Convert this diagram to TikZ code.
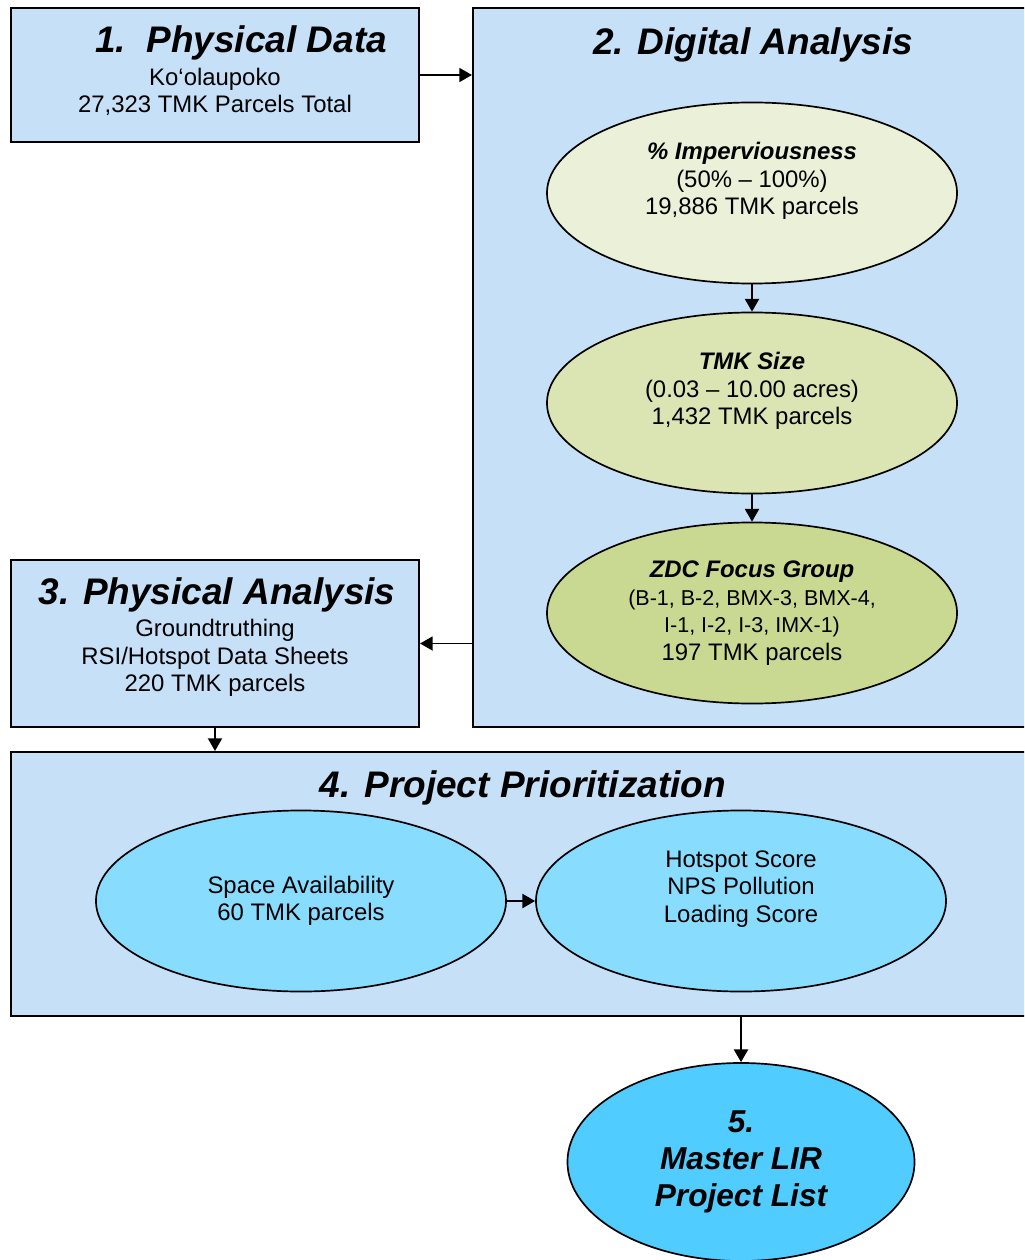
\documentclass[tikz,border=0pt]{standalone}
\usepackage{fontspec}
\setmainfont{Liberation Sans}
\usetikzlibrary{shapes.geometric,arrows.meta}

\definecolor{paneblue}{HTML}{C6E0F8}
\definecolor{ovalA}{HTML}{EBF0D9}
\definecolor{ovalB}{HTML}{DBE5B3}
\definecolor{ovalC}{HTML}{C9D991}
\definecolor{ovalD}{HTML}{88DCFE}
\definecolor{ovalF}{HTML}{50CCFE}

\begin{document}
\begin{tikzpicture}[x=0.025cm,y=-0.025cm]
    \tikzstyle{panel}=[
        draw = black,
        line width = 1.4pt,
        fill = paneblue,
        rectangle,
        inner sep = 0pt
    ]
    \tikzstyle{oval}=[
        draw = black,
        line width = 1.2pt,
        ellipse,
        inner sep = 0pt,
        minimum width = 10.25cm,
        minimum height = 4.525cm,
        align = center,
        font = \fontsize{17}{19.6}\selectfont
    ]
    \tikzstyle{head}=[font=\fontsize{26.3}{30}\selectfont\bfseries\itshape, inner sep=0pt]
    \tikzstyle{body}=[font=\fontsize{17}{19.6}\selectfont, align=center, inner sep=0pt]
    \tikzstyle{link}=[line width=1.2pt, -{Triangle[length=9pt,width=10pt]}]

    \clip (0,0) rectangle (1024,1260);
    \fill[white] (0,0) rectangle (1024,1260);

	\node[panel, minimum width=10.2cm, minimum height=3.35cm]     (phys)  at (215, 75)    {};
	\node[panel, minimum width=13.925cm, minimum height=17.975cm] (dig)   at (751.5, 367.5) {};
	\node[panel, minimum width=10.2cm, minimum height=4.175cm]    (field) at (215, 643.5) {};
	\node[panel, minimum width=25.475cm, minimum height=6.6cm]    (prio)  at (520.5, 884) {};

	\node[head] (physHead)  at (241, 43)  {1.\ \ Physical Data};
	\node[body] (physText)  at (215, 92)  {Ko‘olaupoko\\27,323 TMK Parcels Total};
	\node[head] (digHead)   at (753, 45)  {2. Digital Analysis};
	\node[head] (fieldHead) at (217, 595) {3. Physical Analysis};
	\node[body] (fieldText) at (215, 658) {Groundtruthing\\RSI/Hotspot Data Sheets\\220 TMK parcels};
	\node[head] (prioHead)  at (523, 788) {4. Project Prioritization};

	\node[oval, fill=ovalA] (imp)   at (752, 193) {\textbf{\textit{\% Imperviousness}}\\(50\% -- 100\%)\\19,886 TMK parcels\\[-5pt]\strut};
	\node[oval, fill=ovalB] (size)  at (752, 403) {\textbf{\textit{TMK Size}}\\(0.03 -- 10.00 acres)\\1,432 TMK parcels\\[-5pt]\strut};
	\node[oval, fill=ovalC] (zone)  at (752, 613) {\textbf{\textit{ZDC Focus Group}}\\{\fontsize{15.3}{18.5}\selectfont (B-1, B-2, BMX-3, BMX-4,}\\{\fontsize{15.3}{18.5}\selectfont I-1, I-2, I-3, IMX-1)}\\197 TMK parcels};
	\node[oval, fill=ovalD] (space) at (301, 901) {Space Availability\\60 TMK parcels};
	\node[oval, fill=ovalD] (score) at (741, 901) {Hotspot Score\\NPS Pollution\\Loading Score\\[-5pt]\strut};
	\node[oval, fill=ovalF, minimum width=8.675cm, minimum height=4.95cm,
	      font=\fontsize{22.5}{26.3}\selectfont\bfseries\itshape] (master) at (741, 1162) {5.\\Master LIR\\Project List};

	\draw[link] (phys.east) -- (phys.east -| dig.west);
	\draw[link] (imp.south) -- (size.north);
	\draw[link] (size.south) -- (zone.north);
	\draw[link] (field.east -| dig.west) -- (field.east);
	\draw[link] (field.south) -- (field.south |- prio.north);
	\draw[link] (space.east) -- (score.west);
	\draw[link] (master.north |- prio.south) -- (master.north);

\end{tikzpicture}
\end{document}
